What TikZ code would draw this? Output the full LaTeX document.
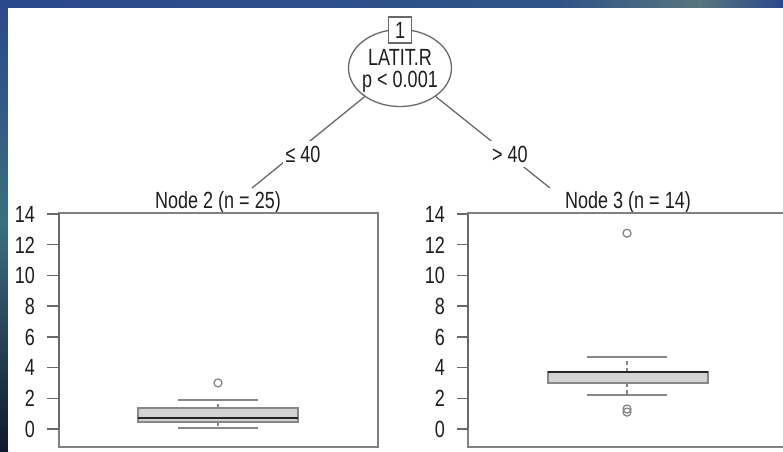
\documentclass[tikz,border=0pt]{standalone}
\usepackage{graphicx}
\usepackage{fontspec}
\setmainfont{Liberation Sans}
\usetikzlibrary{shapes.geometric}
\newcommand{\tx}[1]{\scalebox{1}[1.3]{#1}}
\definecolor{bgblue}{RGB}{42,72,140}
\definecolor{bgteal}{RGB}{60,110,125}
\definecolor{bgdark}{RGB}{15,25,45}
\definecolor{ln}{RGB}{105,105,105}
\definecolor{txt}{RGB}{30,30,30}
\definecolor{boxfill}{RGB}{211,211,211}
\tikzset{
  every node/.style={text=txt, font=\fontsize{18}{20}\selectfont, inner sep=0pt},
  ln/.style={draw=ln, line width=1.3pt},
  panel/.style={draw=ln!85, line width=1.5pt},
  rootnode/.style={ellipse, draw=ln, line width=1.3pt, fill=white, minimum width=103pt, minimum height=77pt},
  idbox/.style={rectangle, draw=ln, line width=1.3pt, fill=white, minimum width=23pt, minimum height=26pt},
  edgelab/.style={fill=white, inner xsep=3pt, inner ysep=5pt},
  ticklab/.style={anchor=base east},
  bxp/.style={draw=ln!80, fill=boxfill, line width=1.5pt},
  med/.style={draw=black!85, line width=2pt},
  whiskcap/.style={draw=ln!80, line width=1.8pt},
  whisk/.style={draw=ln!80, line width=1.3pt, dash pattern=on 4pt off 3pt},
  outl/.style={draw=ln!80, line width=1.3pt}
}
\begin{document}
\begin{tikzpicture}[x=1pt, y=-1pt]
\useasboundingbox (0,0) rectangle (783,451);
% background
\shade[top color=bgblue, bottom color=bgdark, middle color=bgteal] (0,0) rectangle (8,451);
\shade[left color=bgblue, right color=bgblue!70!bgteal] (8,0) rectangle (560,8);
\shade[left color=bgblue!70!bgteal, right color=bgteal!60!gray] (560,0) rectangle (700,8);
\shade[left color=bgteal!60!gray, right color=bgblue] (700,0) rectangle (783,8);
\fill[white] (8,8) rectangle (783,451);

% root node
\node[rootnode] (root) at (400,68) {};
\node[anchor=base] (rootvar) at (400,65) {\tx{LATIT.R}};
\node[anchor=base] (rootp) at (400,87) {\tx{p < 0.001}};
\node[idbox] (id1) at (400,30) {\tx{1}};

% edges
\coordinate (e2) at (252,188);
\coordinate (e3) at (550,188);
\draw[ln] (root) -- (e2);
\draw[ln] (root) -- (e3);
\node[edgelab, anchor=base] (lab2) at (303,162) {\tx{≤ 40}};
\node[edgelab, anchor=base] (lab3) at (510,162) {\tx{> 40}};

% titles
\node[anchor=base] (t2) at (218,208) {\tx{Node 2 (n = 25)}};
\node[anchor=base] (t3) at (628,208) {\tx{Node 3 (n = 14)}};

% panels
\draw[panel] (59,213) rectangle (378,447);
\draw[panel] (468,213) rectangle (800,447);
\foreach \v in {0,2,...,14} {
  \draw[ln] (47,{429-15.36*\v}) -- (59,{429-15.36*\v});
  \node[ticklab] at (35,{429-15.36*\v+8.4}) {\tx{\v}};
  \draw[ln] (457,{429-15.36*\v}) -- (468,{429-15.36*\v});
  \node[ticklab] at (445,{429-15.36*\v+8.4}) {\tx{\v}};
}
\draw[ln] (59,214) -- (59,429);
\draw[ln] (468,214) -- (468,429);

% boxplot node 2
\draw[whisk] (218,408) -- (218,399.8);
\draw[whisk] (218,421.9) -- (218,427.9);
\draw[whiskcap] (178,399.8) -- (258,399.8);
\draw[whiskcap] (178,427.9) -- (258,427.9);
\draw[bxp] (138,408) rectangle (298,421.9);
\draw[med] (138,417.9) -- (298,417.9);
\draw[outl] (218,382.9) circle (4pt);

% boxplot node 3
\draw[whisk] (627,371.9) -- (627,356.8);
\draw[whisk] (627,382.9) -- (627,395.2);
\draw[whiskcap] (587,356.8) -- (667,356.8);
\draw[whiskcap] (587,395.2) -- (667,395.2);
\draw[bxp] (548,371.9) rectangle (708,382.9);
\draw[med] (548,371.9) -- (708,371.9);
\draw[outl] (627,233.2) circle (4pt);
\draw[outl] (627,409) circle (4pt);
\draw[outl] (627,412.1) circle (4pt);
\end{tikzpicture}
\end{document}
